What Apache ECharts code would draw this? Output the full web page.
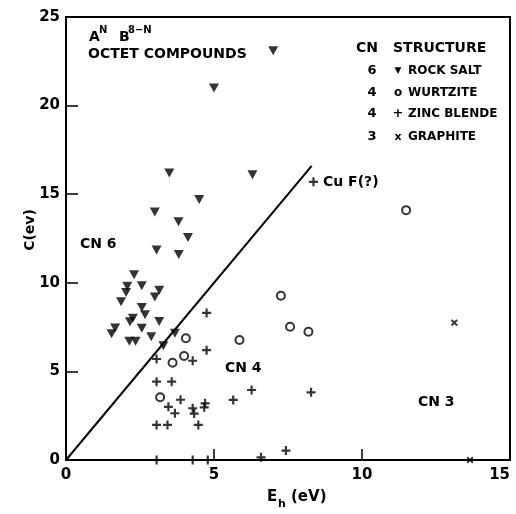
<!DOCTYPE html>
<html>
<head>
<meta charset="utf-8">
<script src="https://cdn.jsdelivr.net/npm/echarts@6/dist/echarts.min.js"></script>
<style>
  html, body { margin: 0; padding: 0; background: #fff; }
  #chart { width: 516px; height: 514px; }
</style>
</head>
<body>
<div id="chart"></div>
<script>
// Eh (eV), C (eV) pairs for each crystal structure
const rockSalt = [
  [7.0, 23.1], [5.0, 21.0], [3.49, 16.2], [6.3, 16.1], [4.5, 14.7],
  [3.0, 14.0], [3.8, 13.45], [4.12, 12.55], [3.06, 11.85], [3.81, 11.6],
  [2.3, 10.45], [2.07, 9.8], [2.56, 9.84], [2.03, 9.45], [3.15, 9.58],
  [3.0, 9.2], [1.86, 8.93], [2.56, 8.6], [2.67, 8.2], [2.26, 8.0],
  [2.16, 7.8], [3.15, 7.82], [2.56, 7.43], [1.66, 7.45], [1.54, 7.12],
  [2.88, 6.95], [2.14, 6.7], [2.35, 6.7], [3.68, 7.15], [3.29, 6.45]
];
const wurtzite = [
  [4.05, 6.87], [5.86, 6.77], [3.99, 5.87], [3.6, 5.49], [3.18, 3.54],
  [7.26, 9.27], [7.57, 7.52], [8.19, 7.24], [11.49, 14.1]
];
const zincBlende = [
  [4.75, 8.3], [4.75, 6.2], [3.06, 5.7], [4.28, 5.6], [3.06, 4.42],
  [3.57, 4.42], [3.87, 3.4], [3.46, 3.0], [3.68, 2.64], [4.28, 2.92],
  [4.33, 2.62], [4.7, 3.2], [4.67, 2.97], [3.06, 1.98], [3.43, 1.98],
  [4.47, 1.98], [5.65, 3.39], [6.27, 3.95], [8.28, 3.82], [7.43, 0.53],
  [6.59, 0.15], [3.06, 0], [4.28, 0], [4.79, 0], [8.36, 15.7]
];
const graphite = [[13.12, 7.75], [13.65, 0]];
// dividing line C = 2 Eh between CN 6 and CN 4
const boundary = [[0, 0], [8.3, 16.6]];
const xTicks = [0, 5, 10, 15];
const yTicks = [0, 5, 10, 15, 20, 25];

const FONT = 'DejaVu Sans';
const PLUS = 'path://M3.8,0H6.2V3.8H10V6.2H6.2V10H3.8V6.2H0V3.8H3.8Z';

function txt(x, y, text, size, extra, rotation) {
  return {
    type: 'text', x: x, y: y, silent: true, rotation: rotation || 0,
    style: Object.assign({
      text: text, fill: '#000', font: 'bold ' + size + 'px "' + FONT + '"',
      textAlign: 'left', textVerticalAlign: 'middle'
    }, extra || {})
  };
}

const chart = echarts.init(document.getElementById('chart'));
chart.setOption({
  animation: false,
  backgroundColor: '#fff',
  grid: {
    left: 66, right: 6, top: 17, bottom: 54, outerBoundsMode: 'none',
    show: true, borderColor: '#000', borderWidth: 2
  },
  xAxis: {
    type: 'value', min: xTicks[0], max: xTicks[xTicks.length - 1], interval: 5,
    axisLine: { show: true, lineStyle: { color: '#000', width: 2 } },
    axisTick: { show: true, inside: true, length: 11, lineStyle: { color: '#000', width: 1.5 } },
    axisLabel: { color: '#000', fontFamily: FONT, fontWeight: 'bold', fontSize: 15, margin: 8,
      alignMaxLabel: 'right' },
    splitLine: { show: false }
  },
  yAxis: {
    type: 'value', min: yTicks[0], max: yTicks[yTicks.length - 1], interval: 5,
    axisLine: { show: true, lineStyle: { color: '#000', width: 2 } },
    axisTick: { show: true, inside: true, length: 12, lineStyle: { color: '#000', width: 1.5 } },
    axisLabel: { color: '#000', fontFamily: FONT, fontWeight: 'bold', fontSize: 15, margin: 6 },
    splitLine: { show: false }
  },
  series: [
    { type: 'line', data: boundary, symbol: 'none', silent: true,
      lineStyle: { color: '#000', width: 2 }, z: 1 },
    { type: 'scatter', data: rockSalt, symbol: 'triangle', symbolRotate: 180,
      symbolSize: [10, 9], itemStyle: { color: '#000' }, z: 3 },
    { type: 'scatter', data: wurtzite, symbol: 'emptyCircle', symbolSize: 8,
      itemStyle: { color: '#000', borderColor: '#000', borderWidth: 1.7 }, z: 3 },
    { type: 'scatter', data: zincBlende, symbol: PLUS, symbolSize: 9,
      itemStyle: { color: '#000' }, z: 3 },
    { type: 'scatter', data: graphite, symbol: PLUS, symbolSize: 8, symbolRotate: 45,
      itemStyle: { color: '#000' }, z: 3 }
  ],
  graphic: [
    // heading
    txt(89, 37, 'A', 14),
    txt(99, 30, 'N', 10),
    txt(119, 37, 'B', 14),
    txt(128, 30, '8\u2212N', 10),
    txt(88, 54, 'OCTET COMPOUNDS', 14),
    // structure key
    txt(356, 48, 'CN', 14),
    txt(393, 48, 'STRUCTURE', 14),
    txt(372, 71, '6', 13, { textAlign: 'center' }),
    txt(398, 71, '\u25BC', 9, { textAlign: 'center' }),
    txt(408, 71, 'ROCK SALT', 12),
    txt(372, 93, '4', 13, { textAlign: 'center' }),
    txt(398, 93, 'o', 12, { textAlign: 'center' }),
    txt(408, 93, 'WURTZITE', 12),
    txt(372, 114, '4', 13, { textAlign: 'center' }),
    txt(398, 114, '+', 13, { textAlign: 'center' }),
    txt(408, 114, 'ZINC BLENDE', 12),
    txt(372, 137, '3', 13, { textAlign: 'center' }),
    txt(398, 137, 'x', 11, { textAlign: 'center' }),
    txt(408, 137, 'GRAPHITE', 12),
    // region labels
    txt(80, 244, 'CN 6', 14),
    txt(225, 368, 'CN 4', 14),
    txt(418, 402, 'CN 3', 14),
    txt(323, 182, 'Cu F(?)', 14),
    // axis titles
    txt(30, 230, 'C(ev)', 14, { textAlign: 'center' }, Math.PI / 2),
    txt(267, 497, 'E', 15),
    txt(278, 504, 'h', 11),
    txt(291, 497, '(eV)', 15)
  ]
});
</script>
</body>
</html>
